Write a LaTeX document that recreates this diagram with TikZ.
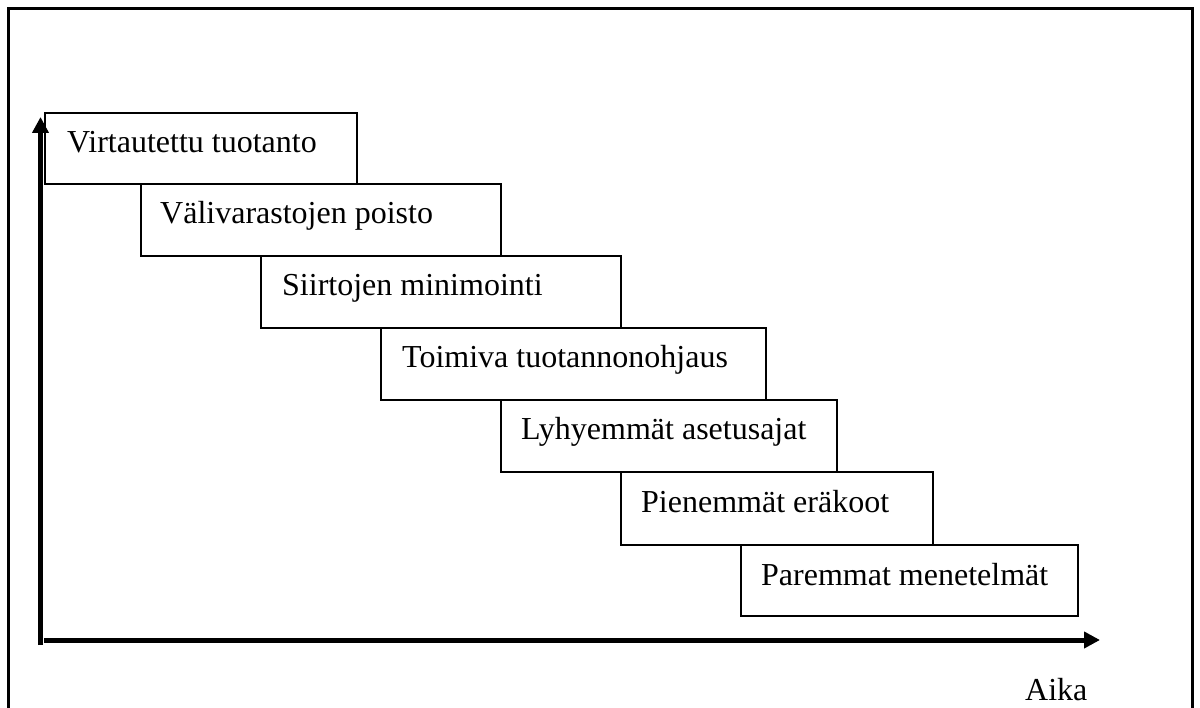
\documentclass[tikz,border=0pt]{standalone}
\usepackage{fontspec}
\setmainfont{Liberation Serif}
\usetikzlibrary{arrows.meta}
\begin{document}
\begin{tikzpicture}[x=1pt,y=-1pt,
  stepbox/.style={draw=black, line width=2pt, fill=white, anchor=north west, inner sep=0pt},
  steplabel/.style={anchor=base west, inner sep=0pt, font=\fontsize{32}{38}\selectfont},
  axis/.style={line width=5pt, -{Triangle[length=16pt,width=16pt]}}]
\useasboundingbox (0,0) rectangle (1200,708);
% outer frame (bottom edge lies outside the picture)
\draw[line width=3pt] (8,708) -- (8,9) -- (1192,9) -- (1192,708);
% boxes
\node[stepbox, minimum width=312pt, minimum height=71pt] (b1) at (44,112) {};
\node[stepbox, minimum width=360pt, minimum height=72pt] (b2) at (140,183) {};
\node[stepbox, minimum width=360pt, minimum height=72pt] (b3) at (260,255) {};
\node[stepbox, minimum width=385pt, minimum height=72pt] (b4) at (380,327) {};
\node[stepbox, minimum width=336pt, minimum height=72pt] (b5) at (500,399) {};
\node[stepbox, minimum width=312pt, minimum height=73pt] (b6) at (620,471) {};
\node[stepbox, minimum width=337pt, minimum height=71pt] (b7) at (740,544) {};
\node[steplabel] (t1) at ([shift={(23,41)}]b1.north west) {Virtautettu tuotanto};
\node[steplabel] (t2) at ([shift={(20,41)}]b2.north west) {Välivarastojen poisto};
\node[steplabel] (t3) at ([shift={(22,41)}]b3.north west) {Siirtojen minimointi};
\node[steplabel] (t4) at ([shift={(22,41)}]b4.north west) {Toimiva tuotannonohjaus};
\node[steplabel] (t5) at ([shift={(21,41)}]b5.north west) {Lyhyemmät asetusajat};
\node[steplabel] (t6) at ([shift={(21,41)}]b6.north west) {Pienemmät eräkoot};
\node[steplabel] (t7) at ([shift={(21,41)}]b7.north west) {Paremmat menetelmät};
% axes
\coordinate (ybot) at (40.5,645);
\coordinate (ytop) at (40.5,117);
\coordinate (xleft) at (44,640);
\coordinate (xright) at (1100,640);
\draw[axis] (ybot) -- (ytop);
\draw[axis] (xleft) -- (xright);
\node[steplabel] (aika) at (1025,700) {Aika};
\end{tikzpicture}
\end{document}
